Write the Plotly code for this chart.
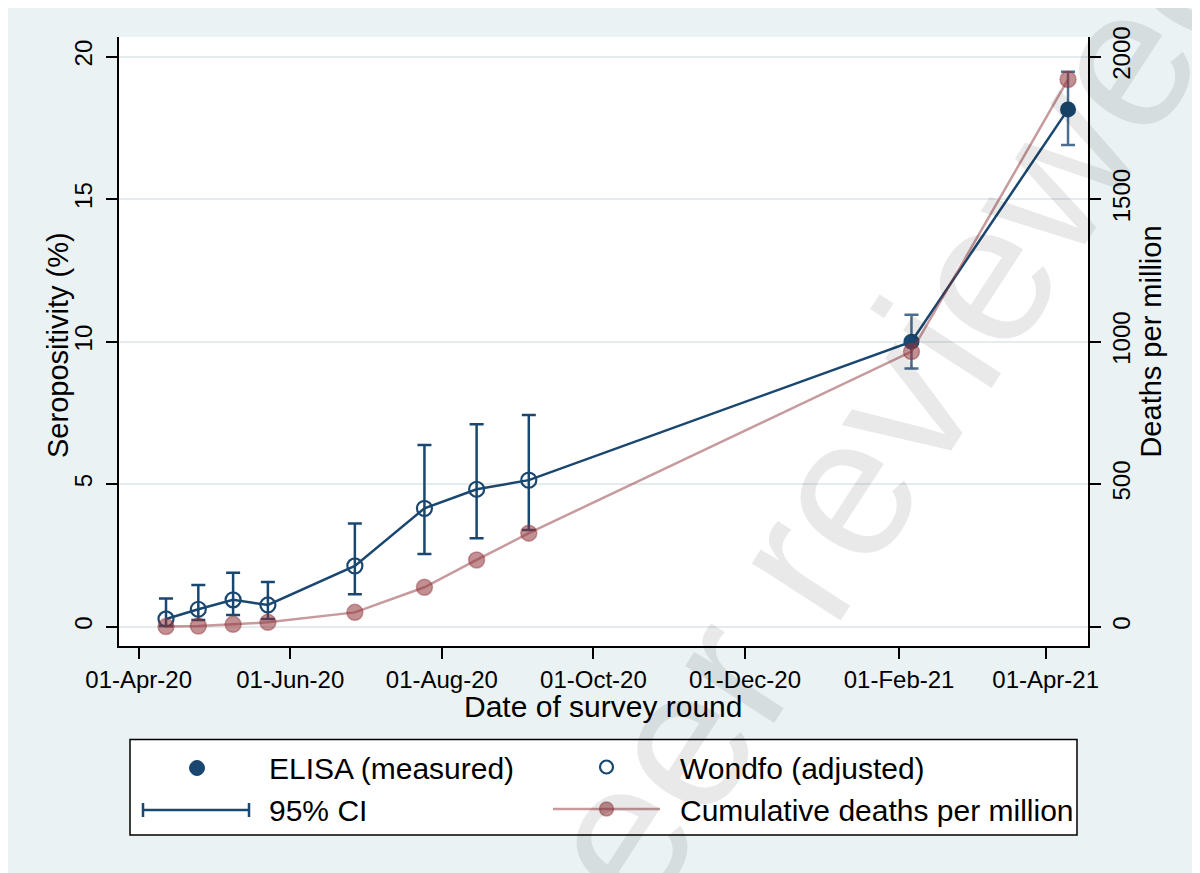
import plotly.graph_objects as go
import pandas as pd

# ---------------- data ----------------
wondfo_dates = ["2020-04-12", "2020-04-25", "2020-05-09", "2020-05-23",
                "2020-06-27", "2020-07-25", "2020-08-15", "2020-09-05"]
wondfo_pct = [0.27, 0.61, 0.94, 0.76, 2.13, 4.15, 4.82, 5.14]
wondfo_lo = [0.02, 0.23, 0.41, 0.27, 1.14, 2.55, 3.10, 3.39]
wondfo_hi = [0.99, 1.46, 1.89, 1.57, 3.62, 6.37, 7.10, 7.43]

elisa_dates = ["2021-02-06", "2021-04-10"]
elisa_pct = [10.0, 18.15]
elisa_lo = [9.06, 16.90]
elisa_hi = [10.94, 19.47]

death_dates = wondfo_dates + elisa_dates
deaths_per_million = [0, 2, 8, 15, 50, 138, 234, 328, 965, 1920]

x_tick_dates = ["2020-04-01", "2020-06-01", "2020-08-01", "2020-10-01",
                "2020-12-01", "2021-02-01", "2021-04-01"]
y_ticks = [0, 5, 10, 15, 20]
y2_ticks = [0, 500, 1000, 1500, 2000]

# ---------------- styling ----------------
NAVY = "#1A476F"
MAROON_LINE = "rgba(144,53,59,0.5)"
MAROON_FILL = "rgba(144,53,59,0.55)"
BG = "#EAF2F3"
GRID = "#E4ECEE"
FONT = "Liberation Sans, Arial, sans-serif"

W, H = 1200, 873
OFF = 8                                # page body margin (screen = figure + 8)
PL, PR, PT, PB = 111, 1080, 29, 638    # plot area, figure pixels

def px(xs):   # screen x -> paper fraction
    return (xs - OFF - PL) / (PR - PL)

def py(ys):   # screen y -> paper fraction
    return (PB - (ys - OFF)) / (PB - PT)

y_range = [-0.68, 20.69]
y2_range = [v * 100 for v in y_range]
x_range = ["2020-03-24 02:00", "2021-04-18 01:00"]

fig = go.Figure()

# connecting navy line through all seropositivity estimates
fig.add_trace(go.Scatter(
    x=pd.to_datetime(wondfo_dates + elisa_dates),
    y=wondfo_pct + elisa_pct,
    mode="lines", line=dict(color=NAVY, width=2.5),
    showlegend=False, hoverinfo="skip"))

# Wondfo (adjusted) hollow markers + CI
fig.add_trace(go.Scatter(
    x=pd.to_datetime(wondfo_dates), y=wondfo_pct, mode="markers",
    marker=dict(symbol="circle-open", size=15, color=NAVY, line=dict(width=2.2, color=NAVY)),
    error_y=dict(type="data", symmetric=False,
                 array=[h - v for h, v in zip(wondfo_hi, wondfo_pct)],
                 arrayminus=[v - l for v, l in zip(wondfo_pct, wondfo_lo)],
                 color=NAVY, thickness=2.5, width=7),
    name="Wondfo (adjusted)", showlegend=False))

# ELISA (measured) filled markers + CI
fig.add_trace(go.Scatter(
    x=pd.to_datetime(elisa_dates), y=elisa_pct, mode="markers",
    marker=dict(symbol="circle", size=16, color=NAVY),
    error_y=dict(type="data", symmetric=False,
                 array=[h - v for h, v in zip(elisa_hi, elisa_pct)],
                 arrayminus=[v - l for v, l in zip(elisa_pct, elisa_lo)],
                 color="rgba(26,71,111,0.78)", thickness=2.5, width=7),
    name="ELISA (measured)", showlegend=False))

# Cumulative deaths per million (right axis)
fig.add_trace(go.Scatter(
    x=pd.to_datetime(death_dates), y=deaths_per_million, yaxis="y2",
    mode="lines+markers",
    line=dict(color=MAROON_LINE, width=2.5),
    marker=dict(symbol="circle", size=16, color=MAROON_FILL,
                line=dict(color="rgba(144,53,59,0.45)", width=1.5)),
    name="Cumulative deaths per million", showlegend=False))

axis_common = dict(showline=True, linecolor="black", linewidth=1.5,
                   ticks="outside", ticklen=11, tickwidth=1.5, tickcolor="black",
                   tickfont=dict(size=24, color="black", family=FONT),
                   zeroline=False)

fig.update_layout(
    width=W, height=H,
    margin=dict(l=PL, r=W - PR, t=PT, b=H - PB, autoexpand=False),
    paper_bgcolor=BG, plot_bgcolor="white",
    font=dict(family=FONT, color="black"),
    showlegend=False,
    xaxis=dict(range=x_range, type="date",
               tickvals=pd.to_datetime(x_tick_dates), tickformat="%d-%b-%y",
               showgrid=False, **axis_common),
    yaxis=dict(range=y_range, tickvals=y_ticks, tickangle=-90, ticklabelstandoff=5,
               showgrid=True, gridcolor=GRID, gridwidth=2, **axis_common),
    yaxis2=dict(range=y2_range, tickvals=y2_ticks, tickangle=-90,
                overlaying="y", side="right", showgrid=False,
                title=dict(text="Deaths per million", font=dict(size=29, family=FONT, color="black"),
                           standoff=6),
                **axis_common),
)

shapes = []
# legend box
shapes.append(dict(type="rect", xref="paper", yref="paper",
                   x0=px(130), x1=px(1077), y0=py(835), y1=py(739.5),
                   fillcolor="white", line=dict(color="black", width=1.5)))
# ELISA filled dot
r = 7.5
shapes.append(dict(type="circle", xref="paper", yref="paper",
                   x0=px(197 - r), x1=px(197 + r), y0=py(768 + r), y1=py(768 - r),
                   fillcolor=NAVY, line=dict(color=NAVY, width=1)))
# Wondfo hollow circle
r = 6.5
shapes.append(dict(type="circle", xref="paper", yref="paper",
                   x0=px(606.5 - r), x1=px(606.5 + r), y0=py(767 + r), y1=py(767 - r),
                   fillcolor="rgba(0,0,0,0)", line=dict(color=NAVY, width=2.2)))
# 95% CI symbol
shapes.append(dict(type="line", xref="paper", yref="paper",
                   x0=px(143), x1=px(249), y0=py(810), y1=py(810),
                   line=dict(color=NAVY, width=2.5)))
for xc in (143, 249):
    shapes.append(dict(type="line", xref="paper", yref="paper",
                       x0=px(xc), x1=px(xc), y0=py(803), y1=py(817),
                       line=dict(color=NAVY, width=2.5)))
# deaths symbol
shapes.append(dict(type="line", xref="paper", yref="paper",
                   x0=px(553), x1=px(660), y0=py(809), y1=py(809),
                   line=dict(color=MAROON_LINE, width=2.5)))
r = 7
shapes.append(dict(type="circle", xref="paper", yref="paper",
                   x0=px(606.5 - r), x1=px(606.5 + r), y0=py(809 + r), y1=py(809 - r),
                   fillcolor=MAROON_FILL, line=dict(color="rgba(144,53,59,0.45)", width=1.5)))
fig.update_layout(shapes=shapes)

annotations = []
for text, xs, ys in [("ELISA (measured)", 267, 768), ("95% CI", 267, 810),
                     ("Wondfo (adjusted)", 678, 768),
                     ("Cumulative deaths per million", 678, 810)]:
    annotations.append(dict(text=text, xref="paper", yref="paper", x=px(xs), y=py(ys),
                            xanchor="left", yanchor="middle", showarrow=False,
                            font=dict(size=30, family=FONT, color="black")))
# axis titles (placed as in the reference)
annotations.append(dict(text="Date of survey round", xref="paper", yref="paper",
                        x=px(603), y=py(706), xanchor="center", yanchor="middle",
                        showarrow=False, font=dict(size=30, family=FONT, color="black")))
annotations.append(dict(text="Seropositivity (%)", xref="paper", yref="paper",
                        x=px(58), y=py(345), xanchor="center", yanchor="middle",
                        showarrow=False, textangle=-90,
                        font=dict(size=29, family=FONT, color="black")))
# diagonal watermark
annotations.append(dict(text="Not peer reviewed", xref="paper", yref="paper",
                        x=px(768), y=py(604), xanchor="center", yanchor="middle",
                        showarrow=False, textangle=-57,
                        font=dict(size=200, family=FONT, color="rgba(0,0,0,0.085)")))
fig.update_layout(annotations=annotations)

fig.write_html("out.html")
